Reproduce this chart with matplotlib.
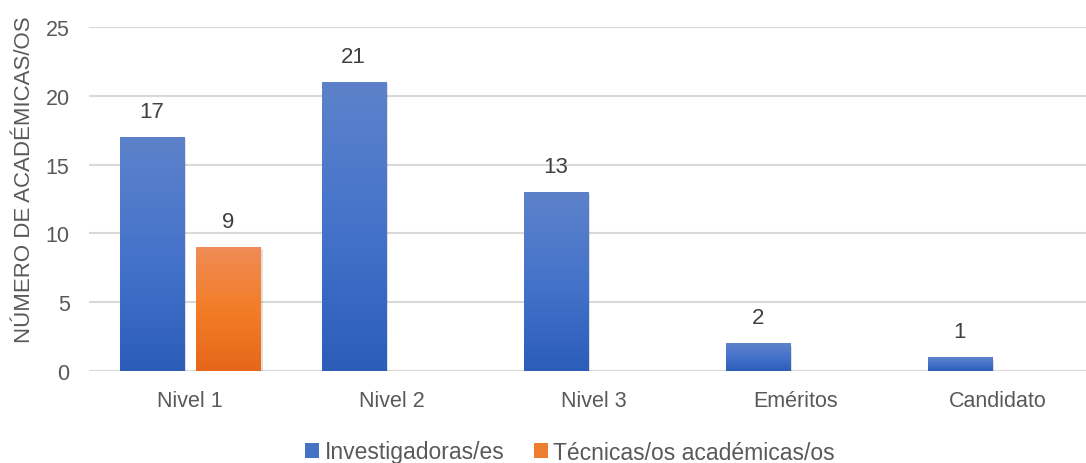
import matplotlib.pyplot as plt
import numpy as np
from matplotlib.colors import LinearSegmentedColormap
from matplotlib.patches import Patch

categories = ["Nivel 1", "Nivel 2", "Nivel 3", "Eméritos", "Candidato"]
investigadores = [17, 21, 13, 2, 1]
tecnicos = [9, 0, 0, 0, 0]
series_names = ["Investigadoras/es", "Técnicas/os académicas/os"]

plt.rcParams["font.family"] = ["Liberation Sans", "DejaVu Sans"]
text_color = "#595959"

fig = plt.figure(figsize=(10.86, 4.64), dpi=100)
ax = fig.add_axes([89 / 1086, 1 - 372 / 464, 1010 / 1086, 344 / 464])

x = np.arange(len(categories))
width = 0.317
offset = 0.19

blue_cmap = LinearSegmentedColormap.from_list("b", ["#2B5DB9", "#4573CB", "#5D82CA"])
orange_cmap = LinearSegmentedColormap.from_list("o", ["#E6661A", "#F37D27", "#EF8C57"])
grad = np.linspace(0, 1, 256).reshape(-1, 1)


def gradient_bars(xpos, values, cmap):
    bars = ax.bar(xpos, values, width, color="none", edgecolor="none", zorder=3)
    for b, v in zip(bars, values):
        if v <= 0:
            continue
        x0 = b.get_x()
        # soft shadow
        ax.bar(x0 + b.get_width() / 2 + 0.012, v - 0.05, width, bottom=-0.12,
               color="#000000", alpha=0.12, zorder=2.5)
        ax.imshow(grad, extent=(x0, x0 + b.get_width(), 0, v), origin="lower",
                  cmap=cmap, aspect="auto", zorder=3)
        ax.annotate(str(v), (x0 + b.get_width() / 2, v), xytext=(0, 11),
                    textcoords="offset points", ha="center", va="bottom",
                    fontsize=16, color="#404040")
    return bars


gradient_bars(x - offset, investigadores, blue_cmap)
gradient_bars(x + offset, tecnicos, orange_cmap)

ax.set_xlim(-0.5, len(categories) - 0.5)
ax.set_ylim(0, 25)
ax.set_yticks(range(0, 26, 5))
ax.set_xticks(x)
ax.set_xticklabels(categories)
ax.tick_params(axis="both", length=0, labelsize=15.5, labelcolor=text_color)
ax.tick_params(axis="x", pad=14)
ax.tick_params(axis="y", pad=14)
ax.grid(axis="y", color="#D9D9D9", linewidth=1.5, zorder=0)
ax.set_axisbelow(True)
for s in ax.spines.values():
    s.set_visible(False)
ax.axhline(0, color="#D9D9D9", linewidth=1.5, zorder=1)

ax.set_ylabel("NÚMERO DE ACADÉMICAS/OS", fontsize=16, color=text_color)
ax.yaxis.set_label_coords(-54 / 1010, (372 - 180) / 344)

handles = [Patch(facecolor="#4472C4"), Patch(facecolor="#ED7D31")]
fig.legend(handles, series_names, loc="center", bbox_to_anchor=(570 / 1086, 1 - 453 / 464),
           ncol=2, frameon=False, fontsize=16.5, labelcolor=text_color,
           handlelength=0.6, handleheight=0.6, handletextpad=0.25, columnspacing=1.3)

fig.savefig("out.png", dpi=100)
